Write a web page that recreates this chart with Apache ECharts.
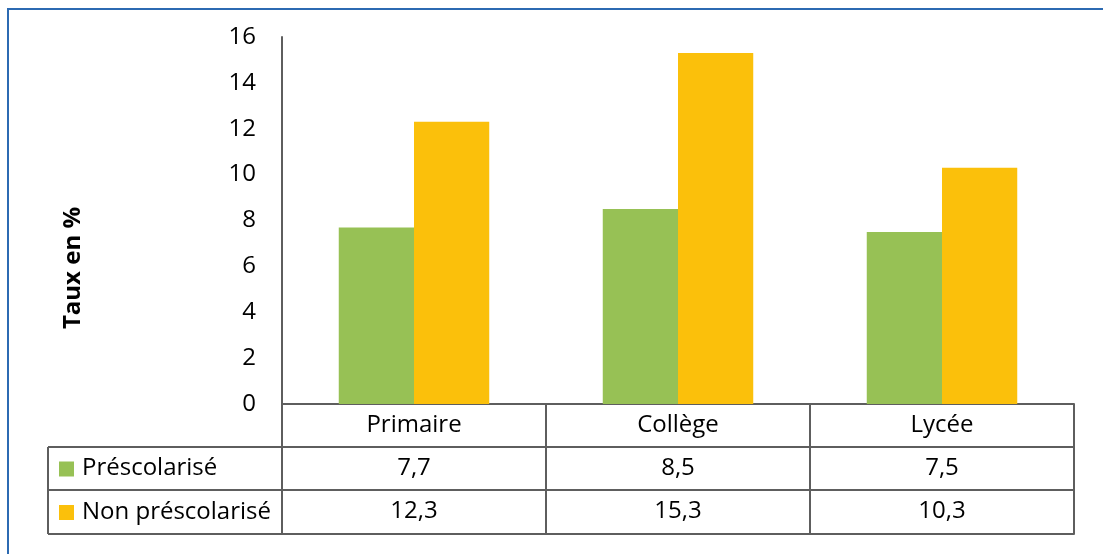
<!DOCTYPE html>
<html>
<head>
<meta charset="utf-8">
<script src="https://cdn.jsdelivr.net/npm/echarts@6/dist/echarts.min.js"></script>
<style>
  html, body { margin: 0; padding: 0; background: #fff; }
  #chart { width: 1103px; height: 554px; }
</style>
</head>
<body>
<div id="chart"></div>
<script>
// Taux par niveau scolaire, selon la préscolarisation
const categories = ['Primaire', 'Collège', 'Lycée'];
const seriesNames = ['Préscolarisé', 'Non préscolarisé'];
const prescolarise = [7.7, 8.5, 7.5];
const nonPrescolarise = [12.3, 15.3, 10.3];
const yTicks = [0, 2, 4, 6, 8, 10, 12, 14, 16];
const yTitle = 'Taux en %';

const colors = ['#97C155', '#FBC00B'];
const lineColor = '#5E5E5E';
const font = '"Open Sans", Lato, sans-serif';
const fontSize = 24;
const textColor = '#000';

const fmt = v => String(v).replace('.', ',');

const chart = echarts.init(document.getElementById('chart'), null, { renderer: 'canvas' });

const gridLeft = 282, gridRight = 29, gridTop = 37, gridBottom = 150;
const rowH = 43;

function tableAxis(offset, values, showLabel) {
  return {
    type: 'category',
    data: categories,
    position: 'bottom',
    offset: offset,
    axisLine: { show: true, lineStyle: { color: lineColor, width: 2 } },
    axisTick: { show: false },
    axisLabel: {
      show: showLabel,
      margin: 9,
      fontSize: fontSize,
      fontFamily: font,
      color: textColor,
      formatter: (val, idx) => values ? fmt(values[idx]) : val
    },
    splitLine: { show: false }
  };
}

const option = {
  animation: false,
  backgroundColor: '#fff',
  textStyle: { fontFamily: font },
  grid: { left: gridLeft, right: gridRight, top: gridTop, bottom: gridBottom, containLabel: false },
  xAxis: [
    {
      type: 'category',
      data: categories,
      position: 'bottom',
      axisLine: { show: true, lineStyle: { color: lineColor, width: 2 } },
      axisTick: { show: true, length: rowH * 3 + 1, inside: false, lineStyle: { color: lineColor, width: 2 } },
      axisLabel: { margin: 9, fontSize: fontSize, fontFamily: font, color: textColor },
      splitLine: { show: false }
    },
    tableAxis(rowH, prescolarise, true),
    tableAxis(rowH * 2, nonPrescolarise, true),
    tableAxis(rowH * 3 + 1, null, false)
  ],
  yAxis: {
    type: 'value',
    min: yTicks[0],
    max: yTicks[yTicks.length - 1],
    interval: 2,
    axisLine: { show: true, lineStyle: { color: lineColor, width: 2 } },
    axisTick: { show: false },
    axisLabel: { margin: 26, fontSize: fontSize, fontFamily: font, color: textColor },
    splitLine: { show: false }
  },
  series: [
    {
      name: seriesNames[0],
      type: 'bar',
      xAxisIndex: 0,
      data: prescolarise,
      itemStyle: { color: colors[0] },
      barGap: '0%',
      barCategoryGap: '43%'
    },
    {
      name: seriesNames[1],
      type: 'bar',
      xAxisIndex: 0,
      data: nonPrescolarise,
      itemStyle: { color: colors[1] },
      barGap: '0%',
      barCategoryGap: '43%'
    }
  ]
};

chart.setOption(option);

// Legend column of the data table, left of the plot area
const axisY = chart.getHeight() - gridBottom;
const tableLeft = 48;
const rows = [axisY + rowH, axisY + rowH * 2, axisY + rowH * 3 + 1];
const lineStyle = { stroke: lineColor, lineWidth: 2 };
const graphics = [
  // blue page frame
  { type: 'rect', shape: { x: 8, y: 9, width: 1300, height: 700 }, style: { fill: null, stroke: '#2C6AB2', lineWidth: 2 }, silent: true },
  { type: 'line', shape: { x1: tableLeft, y1: rows[0], x2: tableLeft, y2: rows[2] }, style: lineStyle },
  // vertical axis title
  { type: 'text', x: 73, y: 268, rotation: Math.PI / 2,
    style: { text: yTitle, fontSize: fontSize, fontWeight: 'bold', fontFamily: font, fill: textColor, align: 'center', verticalAlign: 'middle' } }
];
rows.forEach(y => {
  graphics.push({ type: 'line', shape: { x1: tableLeft, y1: y, x2: gridLeft, y2: y }, style: lineStyle });
});
seriesNames.forEach((name, i) => {
  const cy = (rows[i] + rows[i + 1]) / 2;
  graphics.push({ type: 'rect', shape: { x: 59, y: cy - 7, width: 15, height: 15 }, style: { fill: colors[i] } });
  graphics.push({ type: 'text', x: 82, y: cy, style: { text: name, fontSize: fontSize, fontFamily: font, fill: textColor, verticalAlign: 'middle', align: 'left' } });
});
chart.setOption({ graphic: graphics });
</script>
</body>
</html>
